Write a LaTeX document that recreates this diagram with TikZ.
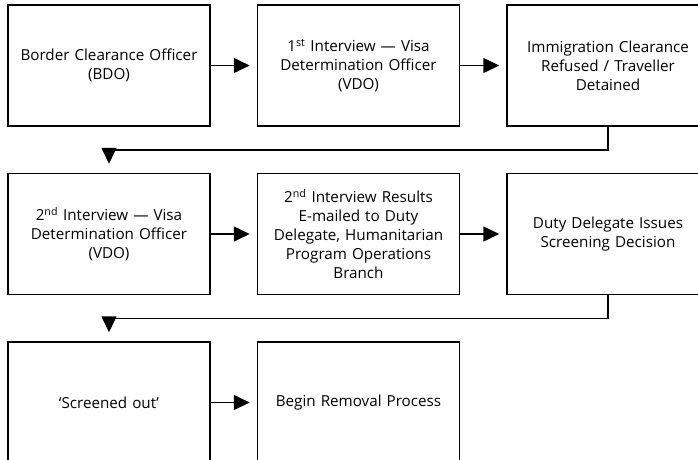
\documentclass[tikz,border=0pt]{standalone}
\usepackage{fontspec}
\setsansfont{Open Sans}
\usetikzlibrary{arrows.meta,positioning}
\tikzset{
    %Define standard arrow tip
    >={Triangle[length=16pt,width=15pt]},
    %Define style for boxes
    stage/.style={
           rectangle,
           draw=black, line width=1.5pt,
           minimum width=202pt,
           minimum height=121pt,
           text width=190pt,
           font=\sffamily\fontsize{15.2}{18.8}\selectfont,
           align=center},
    % Define arrow style
    pil/.style={
           ->,
           line width=1.5pt,
           shorten >=7pt},
    turn/.style={
           ->,
           line width=1.5pt,
           shorten >=9pt}
}

\begin{document}
\begin{tikzpicture}[x=1pt,y=1pt,node distance=46pt and 46pt]
\useasboundingbox (0,0) rectangle (698,-459);
\clip (0,0) rectangle (698,-459);
\node[stage](bdo) at (109,-65.5){Border Clearance Officer\\(BDO)};
\node[stage, right=of bdo](vdoone){1\textsuperscript{st} Interview — Visa\\Determination Officer\\(VDO)};
\node[stage, right=of vdoone](refused){Immigration Clearance\\Refused / Traveller\\Detained};
\node[stage, below=of bdo](vdotwo){2\textsuperscript{nd} Interview — Visa\\Determination Officer\\(VDO)};
\node[stage, right=of vdotwo](emailed){2\textsuperscript{nd} Interview Results\\E-mailed to Duty\\Delegate, Humanitarian\\Program Operations\\Branch};
\node[stage, right=of emailed](decision){Duty Delegate Issues\\Screening Decision};
\node[stage, below=of vdotwo](screened){‘Screened out’};
\node[stage, right=of screened](removal){Begin Removal Process};
 \path[pil]
    (bdo) edge (vdoone)
    (vdoone) edge (refused)
    (vdotwo) edge (emailed)
    (emailed) edge (decision)
    (screened) edge (removal);
\draw[turn] (refused.south) -- ++(0,-23) -| (vdotwo.north);
\draw[turn] (decision.south) -- ++(0,-23) -| (screened.north);
\end{tikzpicture}
\end{document}
